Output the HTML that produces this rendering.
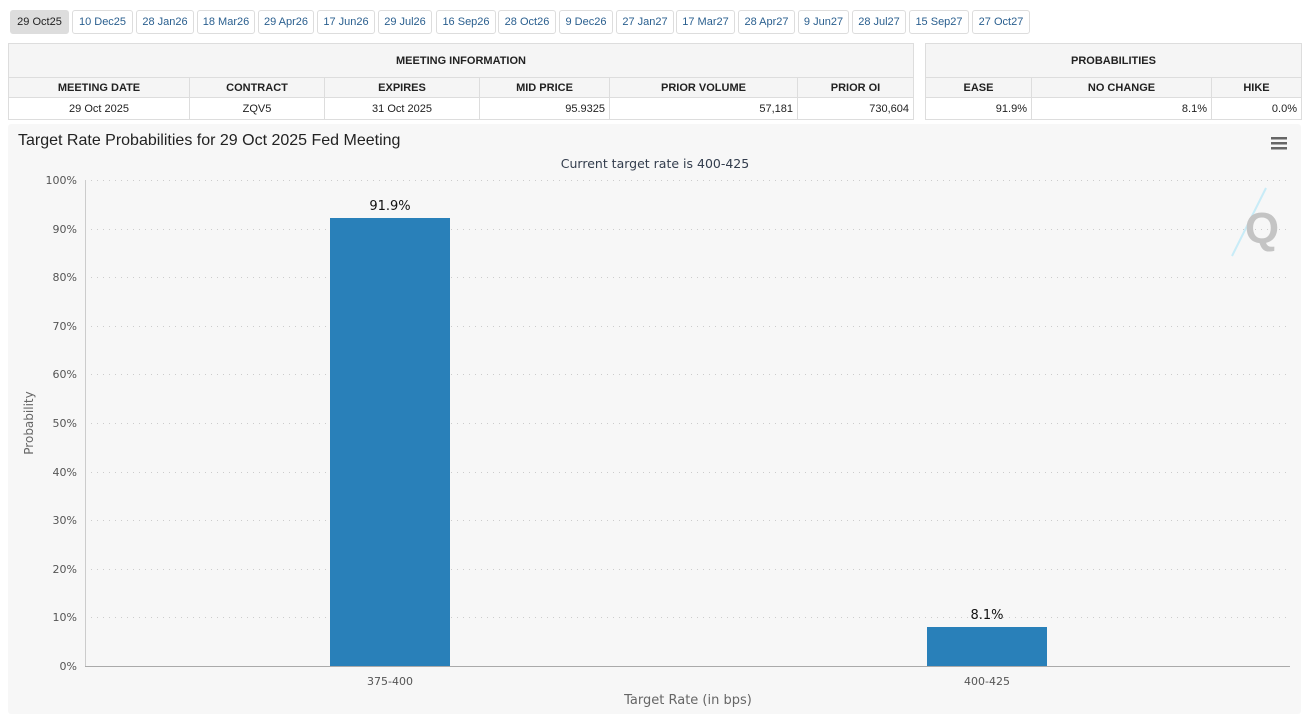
<!DOCTYPE html>
<html><head><meta charset="utf-8"><style>
*{margin:0;padding:0;box-sizing:border-box}
body{width:1313px;height:714px;background:#fff;font-family:"Liberation Sans",Arial,sans-serif;position:relative;overflow:hidden}
.tab{position:absolute;top:10px;height:24px;border:1px solid #ddd;border-radius:3px;font-size:11px;color:#2a5f8f;text-align:center;line-height:22px;background:#fff}
.tab.on{background:#ddd;color:#222;border-color:#ddd}
table{position:absolute;border-collapse:collapse;font-size:11px}
td{border:1px solid #ddd;padding:0 4px;color:#222}
.h td{background:#f5f5f5;font-weight:bold;text-align:center}
</style></head><body>
<div class="tab on" style="left:10px;width:59px">29 Oct25</div>
<div class="tab" style="left:72px;width:61px">10 Dec25</div>
<div class="tab" style="left:136px;width:58px">28 Jan26</div>
<div class="tab" style="left:197px;width:58px">18 Mar26</div>
<div class="tab" style="left:258px;width:56px">29 Apr26</div>
<div class="tab" style="left:317px;width:58px">17 Jun26</div>
<div class="tab" style="left:378px;width:54px">29 Jul26</div>
<div class="tab" style="left:436px;width:60px">16 Sep26</div>
<div class="tab" style="left:498px;width:58px">28 Oct26</div>
<div class="tab" style="left:559px;width:54px">9 Dec26</div>
<div class="tab" style="left:616px;width:58px">27 Jan27</div>
<div class="tab" style="left:676px;width:59px">17 Mar27</div>
<div class="tab" style="left:738px;width:57px">28 Apr27</div>
<div class="tab" style="left:798px;width:51px">9 Jun27</div>
<div class="tab" style="left:852px;width:54px">28 Jul27</div>
<div class="tab" style="left:909px;width:60px">15 Sep27</div>
<div class="tab" style="left:972px;width:58px">27 Oct27</div>

<table style="left:8px;top:43px;width:906px">
<tr class="h" style="height:34px"><td colspan="6">MEETING INFORMATION</td></tr>
<tr class="h" style="height:20px"><td style="width:181px">MEETING DATE</td><td style="width:135px">CONTRACT</td><td style="width:155px">EXPIRES</td><td style="width:130px">MID PRICE</td><td style="width:188px">PRIOR VOLUME</td><td>PRIOR OI</td></tr>
<tr style="height:22px"><td style="text-align:center">29 Oct 2025</td><td style="text-align:center">ZQV5</td><td style="text-align:center">31 Oct 2025</td><td style="text-align:right">95.9325</td><td style="text-align:right">57,181</td><td style="text-align:right">730,604</td></tr>
</table>
<table style="left:925px;top:43px;width:377px">
<tr class="h" style="height:34px"><td colspan="3">PROBABILITIES</td></tr>
<tr class="h" style="height:20px"><td style="width:106px">EASE</td><td style="width:180px">NO CHANGE</td><td>HIKE</td></tr>
<tr style="height:22px"><td style="text-align:right">91.9%</td><td style="text-align:right">8.1%</td><td style="text-align:right">0.0%</td></tr>
</table>

<svg style="position:absolute;left:0;top:0" width="1313" height="714" font-family="DejaVu Sans, sans-serif">
<rect x="8" y="124" width="1293" height="590" rx="3" fill="#f7f7f7"/>
<text x="18" y="145" font-size="16" fill="#222" font-family="Liberation Sans, Arial, sans-serif">Target Rate Probabilities for 29 Oct 2025 Fed Meeting</text>
<text x="655" y="168" font-size="12.5" fill="#333d4d" text-anchor="middle">Current target rate is 400-425</text>
<g fill="#666"><rect x="1271" y="137" width="16" height="2.5"/><rect x="1271" y="142" width="16" height="2.5"/><rect x="1271" y="147" width="16" height="2.5"/></g>
<g stroke="#ccc" stroke-dasharray="1,5" stroke-width="1">
<line x1="85" x2="1290" y1="180.5" y2="180.5"/><line x1="85" x2="1290" y1="229.5" y2="229.5"/><line x1="85" x2="1290" y1="277.5" y2="277.5"/><line x1="85" x2="1290" y1="326.5" y2="326.5"/><line x1="85" x2="1290" y1="374.5" y2="374.5"/><line x1="85" x2="1290" y1="423.5" y2="423.5"/><line x1="85" x2="1290" y1="472.5" y2="472.5"/><line x1="85" x2="1290" y1="520.5" y2="520.5"/><line x1="85" x2="1290" y1="569.5" y2="569.5"/><line x1="85" x2="1290" y1="617.5" y2="617.5"/>
</g>
<line x1="85.5" x2="85.5" y1="180" y2="666" stroke="#ccc"/>
<line x1="85" x2="1290" y1="666.5" y2="666.5" stroke="#aaa"/>
<g font-size="11" fill="#555" text-anchor="end">
<text x="77" y="184">100%</text><text x="77" y="233">90%</text><text x="77" y="281">80%</text><text x="77" y="330">70%</text><text x="77" y="378">60%</text><text x="77" y="427">50%</text><text x="77" y="476">40%</text><text x="77" y="524">30%</text><text x="77" y="573">20%</text><text x="77" y="621">10%</text><text x="77" y="670">0%</text>
</g>
<text transform="translate(33,423) rotate(-90)" font-size="12" fill="#666" text-anchor="middle">Probability</text>
<rect x="330" y="218" width="120" height="448" fill="#2980b9"/>
<rect x="927" y="627" width="120" height="39" fill="#2980b9"/>
<text x="390" y="210" font-size="13" fill="#111" text-anchor="middle">91.9%</text>
<text x="987" y="619" font-size="13" fill="#111" text-anchor="middle">8.1%</text>
<text x="390" y="685" font-size="11" fill="#555" text-anchor="middle">375-400</text>
<text x="987" y="685" font-size="11" fill="#555" text-anchor="middle">400-425</text>
<text x="688" y="704" font-size="13" fill="#666" text-anchor="middle">Target Rate (in bps)</text>
<g stroke="#c8ecf7" stroke-width="2"><line x1="1232" y1="256" x2="1266" y2="188"/></g>
<text x="1262" y="243" font-size="44" font-weight="bold" fill="#c4c4c4" text-anchor="middle" font-family="Liberation Sans, Arial, sans-serif">Q</text>
</svg>
</body></html>
